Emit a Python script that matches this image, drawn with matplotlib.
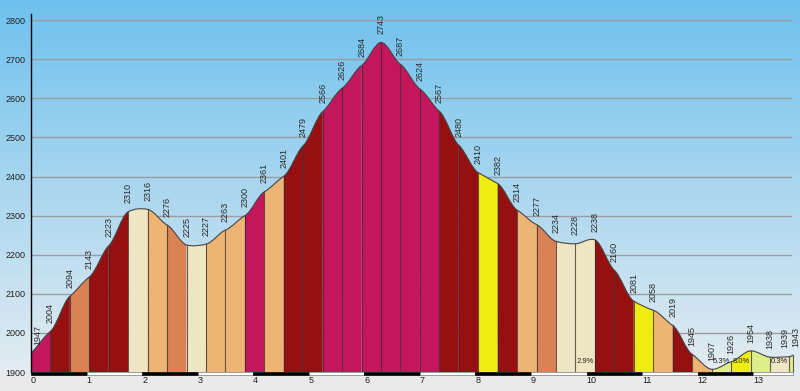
import matplotlib
matplotlib.use("Agg")
import matplotlib.pyplot as plt
import numpy as np
from matplotlib.path import Path
from matplotlib.patches import PathPatch, Rectangle

# profil wysokosci: km i wysokosc w punktach pomiarowych
km = [0.0, 0.35, 0.7, 1.05, 1.4, 1.75, 2.1, 2.45, 2.8, 3.15,
      3.5, 3.85, 4.2, 4.55, 4.9, 5.25, 5.6, 5.95, 6.3, 6.65,
      7.0, 7.35, 7.7, 8.05, 8.4, 8.75, 9.1, 9.45, 9.8, 10.15,
      10.5, 10.85, 11.2, 11.55, 11.9, 12.25, 12.6, 12.95, 13.3, 13.65,
      13.72]
elev = [1947, 2004, 2094, 2143, 2223, 2310, 2316, 2276, 2225, 2227,
        2263, 2300, 2361, 2401, 2479, 2566, 2626, 2684, 2743, 2687,
        2624, 2567, 2480, 2410, 2382, 2314, 2277, 2234, 2228, 2238,
        2160, 2081, 2058, 2019, 1945, 1907, 1926, 1954, 1938, 1939,
        1943]

# opisy nachylenia widoczne na wykresie (indeks odcinka -> tekst)
pct_labels = {28: "2.9%", 35: "5.3%", 36: "8.0%", 38: "0.3%"}

y_ticks = list(range(1900, 2801, 100))
x_ticks = list(range(0, 14))

# kolory wg nachylenia (procent)
grade_bins = [3, 6, 9, 12, 15, 19]
grade_cols = ["#EFE6C3", "#DDEE8A", "#EFEC12", "#EEB473",
              "#DB8255", "#C4165C", "#961012"]


def grade_color(g):
    g = abs(g)
    for b, c in zip(grade_bins, grade_cols):
        if g < b:
            return c
    return grade_cols[-1]


fig = plt.figure(figsize=(8, 3.91), dpi=100)

# tlo - gradient
bg = fig.add_axes([0, 0, 1, 1], zorder=-10)
top = np.array([110, 193, 238]) / 255
bot = np.array([228, 236, 241]) / 255
rows = 391
img = np.zeros((rows, 1, 3))
for r in range(rows):
    if r >= 376:
        img[r, 0] = np.array([234, 234, 234]) / 255
    else:
        t = r / 372
        img[r, 0] = top * (1 - t) + bot * t
bg.imshow(img, aspect="auto", extent=[0, 1, 0, 1])
bg.axis("off")

ax = fig.add_axes([31 / 800, 19 / 391, 762.3 / 800, 357.7 / 391])
ax.patch.set_alpha(0)
ax.set_xlim(0, 13.72)
ax.set_ylim(1900, 2815)

x = np.array(km)
y = np.array(elev, dtype=float)
n = len(x)

# styczne do krzywych Beziera (gladki kontur)
tang = np.zeros(n)
for i in range(n):
    if i == 0:
        tang[i] = (y[1] - y[0])
    elif i == n - 1:
        tang[i] = (y[-1] - y[-2])
    else:
        tang[i] = (y[i + 1] - y[i - 1]) / 2 * 0.55

outline_verts = [(x[0], y[0])]
outline_codes = [Path.MOVETO]
for i in range(n - 1):
    h = x[i + 1] - x[i]
    s0 = tang[i] * (h / 0.35)
    s1 = tang[i + 1] * (h / 0.35)
    c1 = (x[i] + h / 3, y[i] + s0 / 3)
    c2 = (x[i + 1] - h / 3, y[i + 1] - s1 / 3)
    g = (y[i + 1] - y[i]) / (h * 1000) * 100
    verts = [(x[i], 1900), (x[i], y[i]), c1, c2, (x[i + 1], y[i + 1]),
             (x[i + 1], 1900), (x[i], 1900)]
    codes = [Path.MOVETO, Path.LINETO, Path.CURVE4, Path.CURVE4, Path.CURVE4,
             Path.LINETO, Path.CLOSEPOLY]
    ax.add_patch(PathPatch(Path(verts, codes), facecolor=grade_color(g),
                           edgecolor="none", zorder=2, clip_on=False))
    outline_verts += [c1, c2, (x[i + 1], y[i + 1])]
    outline_codes += [Path.CURVE4] * 3
    if i > 0:
        ax.plot([x[i], x[i]], [1900, y[i]], color="#3a2a2a", lw=0.8,
                alpha=0.75, zorder=3)
    if i in pct_labels:
        ax.text((x[i] + x[i + 1]) / 2, 1926, pct_labels[i], fontsize=5.5,
                ha="center", va="center", color="#222222", zorder=5,
                family="Liberation Sans")

ax.plot([x[-1], x[-1]], [1900, y[-1]], color="#3a2a2a", lw=0.8,
        alpha=0.75, zorder=3, clip_on=False)
ax.add_patch(PathPatch(Path(outline_verts, outline_codes), facecolor="none",
                       edgecolor="#454545", lw=0.8, zorder=4, clip_on=False))

# opisy wysokosci
for i in range(n):
    dx = 0
    if i == 0:
        dx = 5
    elif i == n - 2:
        dx = -3
    elif i == n - 1:
        dx = 2
    ax.annotate(str(elev[i]), (x[i], y[i]), xytext=(dx, 6),
                textcoords="offset points", rotation=90, ha="center",
                va="bottom", fontsize=6.5, color="#2a2a2a",
                family="Liberation Sans", annotation_clip=False, zorder=6)

# siatka
for v in y_ticks[1:]:
    ax.plot([0.02, 13.68], [v, v], color="#9a9ea2", lw=1, zorder=1)

# osie
for s in ["top", "right", "bottom"]:
    ax.spines[s].set_visible(False)
ax.spines["left"].set_color("black")
ax.spines["left"].set_linewidth(1)
ax.spines["left"].set_zorder(7)

ax.set_yticks(y_ticks)
ax.set_yticklabels([str(v) for v in y_ticks], fontsize=6.5,
                   family="Liberation Sans", color="#222222")
ax.tick_params(axis="y", length=0, pad=4)

ax.set_xticks(x_ticks)
ax.set_xticklabels([str(v) for v in x_ticks], fontsize=6.5,
                   family="Liberation Sans", color="#222222")
ax.tick_params(axis="x", length=0, pad=3)
for lab in ax.get_xticklabels():
    lab.set_ha("left")

# pasek kilometrow
tr = ax.get_xaxis_transform()
for k in range(14):
    k_end = min(k + 1, 13.72)
    if k % 2 == 0:
        ax.add_patch(Rectangle((k, -0.009), k_end - k, 0.009, transform=tr,
                               facecolor="black", edgecolor="black", lw=0.5,
                               clip_on=False, zorder=8))
    else:
        ax.add_patch(Rectangle((k, -0.009), k_end - k, 0.009, transform=tr,
                               facecolor="white", edgecolor="#777777", lw=0.5,
                               clip_on=False, zorder=8))

fig.savefig("out.png", dpi=100)
